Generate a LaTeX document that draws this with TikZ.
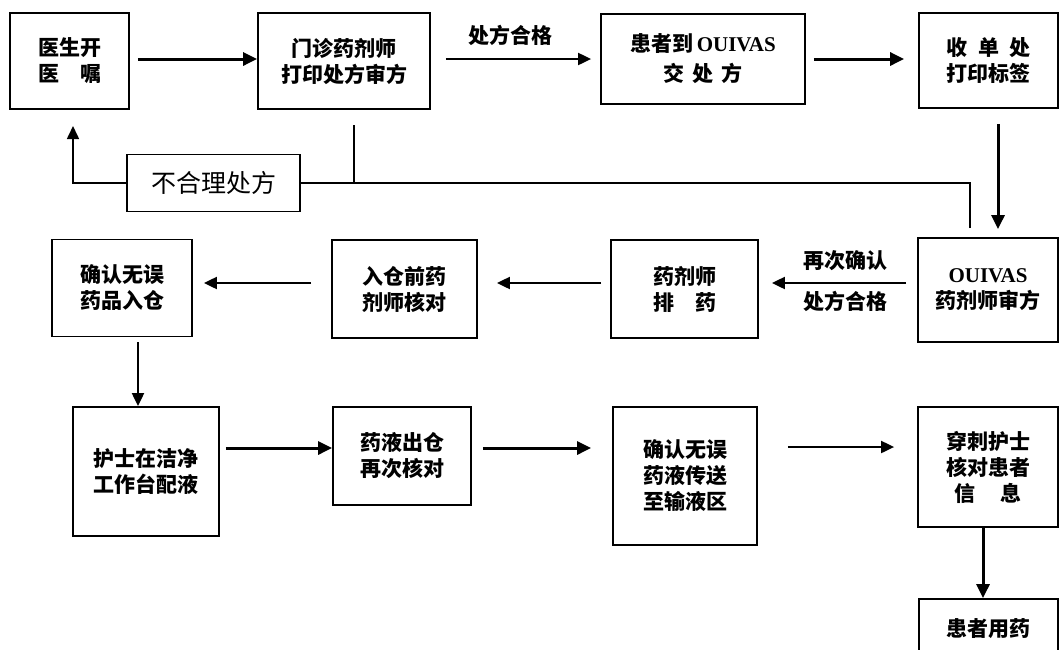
\documentclass[tikz,border=0pt]{standalone}
\usepackage{fontspec}
\newfontfamily\cjk{Noto Sans CJK SC}
\newfontfamily\lat{Liberation Serif}
\usetikzlibrary{arrows.meta}
\newcommand\OU{{\lat\bfseries OUIVAS}}
\tikzset{
  x=1pt, y=1pt,
  box/.style={draw, line width=1.8pt, rectangle, inner sep=0pt, align=center,
              font=\cjk\bfseries\fontsize{21}{26}\selectfont},
  lbl/.style={inner sep=0pt, font=\cjk\bfseries\fontsize{21}{26}\selectfont},
  bigarrow/.style={line width=3pt, -{Triangle[length=14pt,width=13pt]}},
  smallarrow/.style={line width=2pt, -{Triangle[length=13pt,width=12pt]}},
  fb/.style={line width=1.6pt},
}
\begin{document}
\begin{tikzpicture}
\useasboundingbox (0,0) rectangle (1060,-649);
\clip (0,0) rectangle (1060,-649);
% row 1
\node[box, minimum width=119, minimum height=96] (A) at (69.5,-61) {医生开\\医\hspace{1em}嘱};
\node[box, minimum width=172, minimum height=96] (B) at (344,-61) {门诊药剂师\\打印处方审方};
\node[box, minimum width=204, minimum height=90] (C) at (703,-59) {患者到\,\OU\\[4pt]交\hspace{0.4em}处\hspace{0.4em}方};
\node[box, minimum width=139, minimum height=95] (D) at (988.5,-60.5) {收\hspace{0.5em}单\hspace{0.5em}处\\打印标签};
\node[box, line width=1.6pt, minimum width=173, minimum height=57,
      font=\cjk\fontsize{25}{30}\selectfont] (E) at (213.5,-183) {不合理处方};
% row 2
\node[box, minimum width=140, minimum height=104] (F) at (988,-290) {\OU\\药剂师审方};
\node[box, minimum width=147, minimum height=98] (G) at (684.5,-289) {药剂师\\排\hspace{1em}药};
\node[box, minimum width=145, minimum height=98] (H) at (404.5,-289) {入仓前药\\剂师核对};
\node[box, minimum width=140, minimum height=97] (I) at (122,-288) {确认无误\\药品入仓};
% row 3
\node[box, minimum width=146, minimum height=129] (J) at (146,-471.5) {护士在洁净\\工作台配液};
\node[box, minimum width=138, minimum height=98] (K) at (402,-456) {药液出仓\\再次核对};
\node[box, minimum width=144, minimum height=138] (L) at (685,-476) {确认无误\\药液传送\\至输液区};
\node[box, minimum width=140, minimum height=120] (M) at (988,-467) {穿刺护士\\核对患者\\信\hspace{1.2em}息};
\node[box, minimum width=139, minimum height=60] (N) at (988.5,-629) {患者用药};
% labels
\node[lbl] (l1) at (510,-35) {处方合格};
\node[lbl] (l2) at (845,-261) {再次确认};
\node[lbl] (l3) at (845,-301) {处方合格};
% connectors row 1
\draw[bigarrow] ([xshift=8pt,yshift=2pt]A.east) -- ([yshift=2pt]B.west);
\draw[smallarrow] ([xshift=15pt,yshift=2pt]B.east) -- ([xshift=-9pt]C.west);
\draw[bigarrow] ([xshift=8pt]C.east) -- ([xshift=-14pt,yshift=1.5pt]D.west);
\draw[bigarrow] ([xshift=9.5pt,yshift=-15pt]D.south) -- ([xshift=10pt,yshift=8pt]F.north);
% row 2
\draw[smallarrow] ([xshift=-11pt,yshift=7pt]F.west) -- ([xshift=13pt,yshift=6pt]G.east);
\draw[smallarrow] ([xshift=-9pt,yshift=6pt]G.west) -- ([xshift=19pt,yshift=6pt]H.east);
\draw[smallarrow] ([xshift=-20pt,yshift=6pt]H.west) -- ([xshift=11pt,yshift=5pt]I.east);
\draw[smallarrow] ([xshift=16pt,yshift=-5pt]I.south) -- ([xshift=-8pt]J.north);
% row 3
\draw[bigarrow] ([xshift=6pt,yshift=23.5pt]J.east) -- ([yshift=8pt]K.west);
\draw[bigarrow] ([xshift=11pt,yshift=8pt]K.east) -- ([xshift=-21pt,yshift=28pt]L.west);
\draw[smallarrow] ([xshift=30pt,yshift=29pt]L.east) -- ([xshift=-23pt,yshift=20pt]M.west);
\draw[bigarrow] ([xshift=-5pt]M.south) -- ([xshift=-5.5pt]N.north);
% feedback loop
\coordinate (fF) at (970,-228);
\coordinate (fC) at (970,-183);
\coordinate (fB) at (354,-125);
\coordinate (fJ) at (354,-183);
\coordinate (fL) at (73,-183);
\coordinate (fT) at (73,-126);
\draw[fb] (fF) -- (fC) -- (E.east);
\draw[fb] (fB) -- (fJ);
\draw[fb, -{Triangle[length=13pt,width=12pt]}] (E.west) -- (fL) -- (fT);
\end{tikzpicture}
\end{document}
